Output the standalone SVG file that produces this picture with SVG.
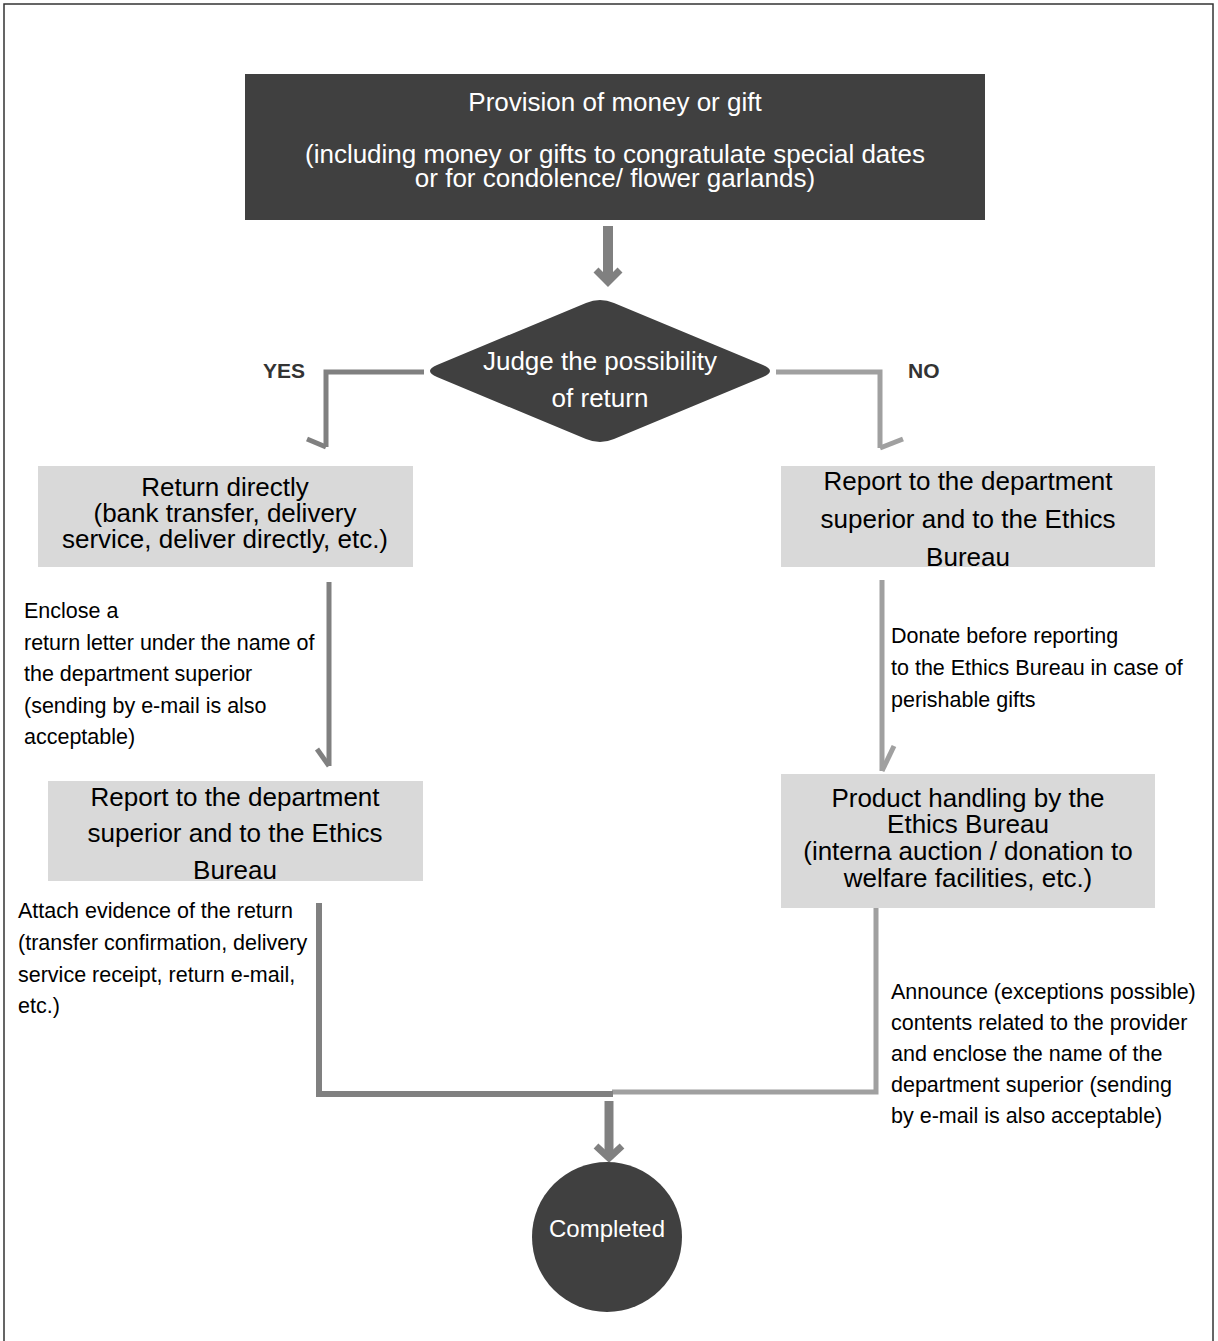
<svg xmlns="http://www.w3.org/2000/svg" width="1218" height="1341" viewBox="0 0 1218 1341">
<style>
text{font-family:"Liberation Sans",Arial,sans-serif;}
.w{fill:#ffffff;font-size:26px;text-anchor:middle;}
.b{fill:#000000;font-size:26px;text-anchor:middle;}
.lab{fill:#000000;font-size:21.5px;}
.yn{fill:#333333;font-size:21px;font-weight:bold;}
.dark{fill:#404040;}
.light{fill:#d9d9d9;}
.c1{fill:none;stroke:#808080;stroke-width:5;}
.c2{fill:none;stroke:#a0a0a0;stroke-width:5;}
.ah{fill:none;stroke:#808080;stroke-width:7;}
</style>
<rect x="0" y="0" width="1218" height="1341" fill="#ffffff"/>
<rect x="4" y="4" width="1209" height="1345" fill="none" stroke="#333333" stroke-width="1.5"/>

<g id="connectors">
  <line x1="608" y1="226" x2="608" y2="279" stroke="#808080" stroke-width="10"/>
  <polyline class="ah" points="596,270 608,282 620,270"/>
  <path class="c1" d="M424,372 H326 V447"/>
  <path class="c1" d="M307,439 L326,447"/>
  <path class="c2" d="M776,372 H880 V448"/>
  <path class="c2" d="M880,448 L903,439"/>
  <path class="c1" d="M329,582 V766"/>
  <path class="c1" d="M317,749 L329,766"/>
  <path class="c2" d="M882,580 V771"/>
  <path class="c2" d="M882,771 L894,746"/>
  <path class="c2" d="M876,907 V1092 H612"/>
  <path fill="none" stroke="#808080" stroke-width="6" d="M319,903 V1094 H613"/>
  <line x1="609" y1="1101" x2="609" y2="1155" stroke="#808080" stroke-width="9"/>
  <polyline class="ah" points="596,1146 609,1158 622,1146"/>
  <text class="yn" x="263" y="378">YES</text>
  <text class="yn" x="908" y="378">NO</text>
  <text class="lab" x="24"><tspan x="24" y="618">Enclose a</tspan><tspan x="24" y="649.5">return letter under the name of</tspan><tspan x="24" y="681">the department superior</tspan><tspan x="24" y="712.5">(sending by e-mail is also</tspan><tspan x="24" y="744">acceptable)</tspan></text>
  <text class="lab"><tspan x="891" y="643">Donate before reporting</tspan><tspan x="891" y="675">to the Ethics Bureau in case of</tspan><tspan x="891" y="707">perishable gifts</tspan></text>
  <text class="lab"><tspan x="18" y="918">Attach evidence of the return</tspan><tspan x="18" y="950">(transfer confirmation, delivery</tspan><tspan x="18" y="982">service receipt, return e-mail,</tspan><tspan x="18" y="1013">etc.)</tspan></text>
  <text class="lab"><tspan x="891" y="999">Announce (exceptions possible)</tspan><tspan x="891" y="1030">contents related to the provider</tspan><tspan x="891" y="1061">and enclose the name of the</tspan><tspan x="891" y="1092">department superior (sending</tspan><tspan x="891" y="1123">by e-mail is also acceptable)</tspan></text>
</g>

<g id="start">
  <rect class="dark" x="245" y="74" width="740" height="146"/>
  <text class="w" x="615" y="111">Provision of money or gift</text>
  <text class="w" x="615" y="163">(including money or gifts to congratulate special dates</text>
  <text class="w" x="615" y="187">or for condolence/ flower garlands)</text>
</g>

<g id="judge">
  <path class="dark" d="M586,303 Q600,297 614,303 L763,365 Q777,371 763,377 L614,439 Q600,445 586,439 L437,377 Q423,371 437,365 Z"/>
  <text class="w" x="600" y="370">Judge the possibility</text>
  <text class="w" x="600" y="407">of return</text>
</g>

<g id="return-directly">
  <rect class="light" x="38" y="466" width="375" height="101"/>
  <text class="b" x="225" y="496">Return directly</text>
  <text class="b" x="225" y="522">(bank transfer, delivery</text>
  <text class="b" x="225" y="548">service, deliver directly, etc.)</text>
</g>

<g id="report-left">
  <rect class="light" x="48" y="781" width="375" height="100"/>
  <text class="b" x="235" y="806">Report to the department</text>
  <text class="b" x="235" y="842">superior and to the Ethics</text>
  <text class="b" x="235" y="879">Bureau</text>
</g>

<g id="report-right">
  <rect class="light" x="781" y="466" width="374" height="101"/>
  <text class="b" x="968" y="490">Report to the department</text>
  <text class="b" x="968" y="528">superior and to the Ethics</text>
  <text class="b" x="968" y="566">Bureau</text>
</g>

<g id="product-handling">
  <rect class="light" x="781" y="774" width="374" height="134"/>
  <text class="b" x="968" y="807">Product handling by the</text>
  <text class="b" x="968" y="833">Ethics Bureau</text>
  <text class="b" x="968" y="860">(interna auction / donation to</text>
  <text class="b" x="968" y="887">welfare facilities, etc.)</text>
</g>

<g id="completed">
  <circle class="dark" cx="607" cy="1237" r="75"/>
  <text class="w" x="607" y="1237" style="font-size:24px">Completed</text>
</g>
</svg>
